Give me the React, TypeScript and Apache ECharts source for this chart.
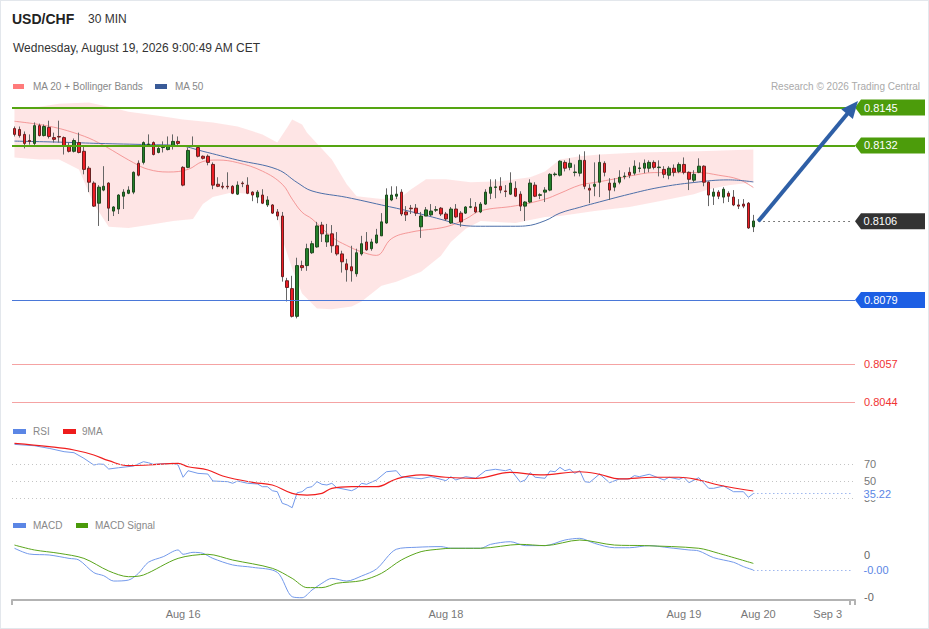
import React, { useEffect, useRef } from "react";
import * as echarts from "echarts";

const FONT = 'Arial, "Liberation Sans", Helvetica, sans-serif';

// category slots (30-min bars + empty future slots)
const SLOT_COUNT = 170;
const slots = Array.from({ length: SLOT_COUNT }, (_, i) => String(i));

// x-axis tick labels and the slot they sit on
const xTickLabels = ["Aug 16", "Aug 18", "Aug 19", "Aug 20", "Sep 3"];
const xTickSlots = [34, 87, 135, 150, 164];

// OHLC candles: [open, close, low, high]
const candles = [
  [0.81378, 0.81358, 0.81351, 0.81385],
  [0.81375, 0.81354, 0.81347, 0.81385],
  [0.81358, 0.81327, 0.8131, 0.81368],
  [0.81337, 0.81334, 0.81323, 0.81358],
  [0.81327, 0.81388, 0.8132, 0.81399],
  [0.81388, 0.81354, 0.81351, 0.81395],
  [0.81354, 0.81385, 0.81351, 0.81392],
  [0.81382, 0.81351, 0.81344, 0.81405],
  [0.81347, 0.81341, 0.8133, 0.81364],
  [0.81351, 0.81349, 0.8133, 0.81405],
  [0.81347, 0.81317, 0.81289, 0.81351],
  [0.81317, 0.813, 0.81296, 0.8133],
  [0.813, 0.81337, 0.81296, 0.81344],
  [0.8133, 0.81296, 0.81293, 0.81364],
  [0.813, 0.81238, 0.81221, 0.81317],
  [0.81242, 0.81194, 0.8116, 0.81249],
  [0.81191, 0.81112, 0.81109, 0.81197],
  [0.81122, 0.81177, 0.81044, 0.81184],
  [0.81167, 0.8118, 0.81163, 0.81249],
  [0.81191, 0.81105, 0.81061, 0.81194],
  [0.81095, 0.81109, 0.81078, 0.81112],
  [0.81102, 0.8115, 0.81085, 0.81153],
  [0.81146, 0.8116, 0.81102, 0.8117],
  [0.81156, 0.81167, 0.81153, 0.8118],
  [0.8116, 0.81228, 0.81153, 0.81231],
  [0.81259, 0.81218, 0.81214, 0.81269],
  [0.81262, 0.8133, 0.81255, 0.81334],
  [0.81323, 0.81325, 0.81317, 0.81358],
  [0.8133, 0.81289, 0.81286, 0.81334],
  [0.81296, 0.8131, 0.81293, 0.81317],
  [0.81313, 0.81315, 0.81296, 0.81334],
  [0.81306, 0.81317, 0.81303, 0.81351],
  [0.8132, 0.81334, 0.81306, 0.81358],
  [0.81334, 0.81327, 0.8132, 0.81351],
  [0.81245, 0.81184, 0.8118, 0.81249],
  [0.81245, 0.81303, 0.81242, 0.81313],
  [0.8132, 0.81318, 0.81317, 0.81351],
  [0.81313, 0.81283, 0.81279, 0.81317],
  [0.81283, 0.81276, 0.81272, 0.81286],
  [0.81283, 0.81262, 0.81252, 0.81289],
  [0.81255, 0.81184, 0.8117, 0.81262],
  [0.81187, 0.8118, 0.81177, 0.81211],
  [0.8118, 0.81177, 0.8117, 0.81194],
  [0.8118, 0.81178, 0.8117, 0.81228],
  [0.8118, 0.81156, 0.81153, 0.81184],
  [0.81153, 0.81184, 0.8115, 0.81197],
  [0.81191, 0.81189, 0.81177, 0.81197],
  [0.81184, 0.81156, 0.81153, 0.81211],
  [0.8116, 0.8115, 0.81129, 0.81163],
  [0.81143, 0.8116, 0.81122, 0.81167],
  [0.8115, 0.81122, 0.81119, 0.8117],
  [0.81116, 0.81133, 0.81109, 0.81146],
  [0.81116, 0.81088, 0.81085, 0.81119],
  [0.81092, 0.81078, 0.81064, 0.81102],
  [0.81078, 0.8087, 0.80853, 0.81092],
  [0.80856, 0.80833, 0.80785, 0.80866],
  [0.80829, 0.80734, 0.8073, 0.80873],
  [0.80734, 0.80908, 0.80727, 0.80935],
  [0.80908, 0.80901, 0.8089, 0.80925],
  [0.80908, 0.80966, 0.8089, 0.80983],
  [0.80952, 0.80983, 0.80948, 0.80993],
  [0.80972, 0.81044, 0.80969, 0.81058],
  [0.81047, 0.81017, 0.80989, 0.81058],
  [0.80989, 0.81013, 0.80972, 0.81051],
  [0.81017, 0.80976, 0.80952, 0.81047],
  [0.80976, 0.80948, 0.80942, 0.81023],
  [0.80948, 0.80921, 0.80884, 0.80959],
  [0.80914, 0.80894, 0.80853, 0.80931],
  [0.80904, 0.8089, 0.80853, 0.80976],
  [0.8088, 0.80952, 0.8087, 0.80966],
  [0.80948, 0.80983, 0.80942, 0.8101],
  [0.80989, 0.80962, 0.80959, 0.81023],
  [0.80966, 0.80989, 0.80959, 0.81],
  [0.80986, 0.81013, 0.80983, 0.81034],
  [0.8101, 0.81058, 0.8101, 0.81088],
  [0.81054, 0.8115, 0.81051, 0.81173],
  [0.81133, 0.8115, 0.81129, 0.8118],
  [0.81146, 0.81153, 0.81136, 0.8118],
  [0.8116, 0.81085, 0.81078, 0.8117],
  [0.81092, 0.81082, 0.81061, 0.81112],
  [0.81105, 0.81103, 0.81085, 0.81116],
  [0.81105, 0.81088, 0.81078, 0.81119],
  [0.81041, 0.81078, 0.81003, 0.81092],
  [0.81078, 0.81099, 0.81078, 0.81109],
  [0.81082, 0.81095, 0.81078, 0.81119],
  [0.81098, 0.811, 0.81092, 0.81112],
  [0.81105, 0.81085, 0.81078, 0.81109],
  [0.81085, 0.81068, 0.81061, 0.81092],
  [0.81054, 0.81102, 0.81051, 0.81109],
  [0.81102, 0.81075, 0.81071, 0.81119],
  [0.81088, 0.81058, 0.81041, 0.81095],
  [0.81088, 0.81109, 0.81085, 0.81112],
  [0.81108, 0.8111, 0.81105, 0.81139],
  [0.81109, 0.81092, 0.81088, 0.81126],
  [0.81092, 0.81119, 0.81088, 0.81126],
  [0.81119, 0.8116, 0.81116, 0.8117],
  [0.81156, 0.81177, 0.81136, 0.81204],
  [0.81176, 0.81178, 0.81139, 0.81204],
  [0.8118, 0.81167, 0.81156, 0.81211],
  [0.81164, 0.81162, 0.81143, 0.81184],
  [0.81153, 0.81191, 0.8115, 0.81228],
  [0.81173, 0.81146, 0.81143, 0.81197],
  [0.81153, 0.81112, 0.81095, 0.81163],
  [0.81112, 0.81126, 0.81061, 0.81129],
  [0.81126, 0.81191, 0.81122, 0.81204],
  [0.81184, 0.81146, 0.81143, 0.81194],
  [0.81149, 0.81151, 0.81136, 0.81156],
  [0.8116, 0.81167, 0.81126, 0.81177],
  [0.81167, 0.81221, 0.81163, 0.81225],
  [0.8122, 0.81222, 0.81214, 0.81228],
  [0.81218, 0.81266, 0.81214, 0.81269],
  [0.81262, 0.81242, 0.81231, 0.81269],
  [0.81245, 0.81259, 0.81235, 0.81276],
  [0.81227, 0.81229, 0.81214, 0.81255],
  [0.81225, 0.81269, 0.81214, 0.81289],
  [0.81269, 0.8118, 0.8117, 0.813],
  [0.81173, 0.81167, 0.81122, 0.81187],
  [0.8118, 0.81187, 0.81146, 0.81262],
  [0.81194, 0.81262, 0.81143, 0.81289],
  [0.81259, 0.81228, 0.81214, 0.81266],
  [0.81191, 0.81167, 0.81133, 0.81208],
  [0.81177, 0.81191, 0.81163, 0.81208],
  [0.81194, 0.81211, 0.81187, 0.81235],
  [0.81213, 0.81215, 0.81204, 0.81228],
  [0.81228, 0.81218, 0.81208, 0.81245],
  [0.81225, 0.81249, 0.81218, 0.81269],
  [0.81241, 0.81243, 0.81228, 0.81262],
  [0.81242, 0.81259, 0.81225, 0.81272],
  [0.81242, 0.81262, 0.81228, 0.81269],
  [0.81262, 0.81245, 0.81238, 0.81269],
  [0.81244, 0.81246, 0.81214, 0.81269],
  [0.81238, 0.81221, 0.81208, 0.81249],
  [0.81218, 0.81242, 0.81204, 0.81249],
  [0.81242, 0.81228, 0.81214, 0.81255],
  [0.81231, 0.81255, 0.81225, 0.81262],
  [0.81255, 0.81228, 0.81221, 0.81279],
  [0.81228, 0.81204, 0.81167, 0.81231],
  [0.81201, 0.81221, 0.81194, 0.81235],
  [0.81228, 0.81249, 0.81225, 0.81276],
  [0.81249, 0.81194, 0.8118, 0.81252],
  [0.81194, 0.8115, 0.81112, 0.81197],
  [0.81146, 0.8116, 0.81116, 0.81173],
  [0.8116, 0.81146, 0.81136, 0.81167],
  [0.81143, 0.8117, 0.81122, 0.81177],
  [0.81156, 0.81146, 0.81126, 0.81163],
  [0.81143, 0.81116, 0.81112, 0.81167],
  [0.81116, 0.81112, 0.81102, 0.81136],
  [0.81119, 0.81112, 0.81105, 0.81136],
  [0.81122, 0.81037, 0.81034, 0.81126],
  [0.81041, 0.81061, 0.81023, 0.81082],
];

// moving averages and Bollinger bands: [slot, price]
const ma20 = [
  [0, 0.81403], [7, 0.81386], [13, 0.81358], [17, 0.81329], [24, 0.81261], [27, 0.81238],
  [31, 0.81229], [35, 0.81238], [38, 0.81265], [41, 0.8127], [45, 0.81261], [50, 0.81232],
  [54, 0.81187], [56, 0.81136], [58, 0.81091], [60, 0.81068], [64, 0.81006], [67, 0.80977],
  [70, 0.80955], [73, 0.80943], [76, 0.81], [80, 0.81023], [87, 0.81041], [91, 0.81068],
  [94, 0.81096], [101, 0.81113], [107, 0.81136], [110, 0.81156], [114, 0.81184], [117, 0.81193],
  [120, 0.81202], [124, 0.81215], [129, 0.81227], [134, 0.81227], [138, 0.81227], [142, 0.81218],
  [146, 0.81204], [149, 0.81176],
];
const ma50 = [
  [0, 0.81335], [10, 0.81331], [17, 0.81327], [27, 0.81323], [33, 0.8132], [38, 0.813],
  [45, 0.8127], [53, 0.81238], [57, 0.81193], [60, 0.81164], [67, 0.81142], [74, 0.81116],
  [80, 0.81093], [87, 0.81062], [90, 0.81047], [94, 0.81043], [101, 0.81043], [103, 0.81044],
  [107, 0.81062], [110, 0.81088], [114, 0.81108], [117, 0.81122], [124, 0.81153], [130, 0.81176],
  [137, 0.81193], [144, 0.81202], [149, 0.81195],
];
const bandUpper = [
  [0, 0.8145], [5, 0.81453], [9, 0.81463], [15, 0.81467], [19, 0.81453], [23, 0.81436],
  [29, 0.81422], [34, 0.81409], [40, 0.81399], [45, 0.81385], [50, 0.81358], [53, 0.8133],
  [55, 0.81382], [56, 0.81409], [58, 0.81392], [59, 0.81364], [64, 0.81272], [67, 0.81187],
  [69, 0.81146], [74, 0.81136], [78, 0.81143], [80, 0.8117], [83, 0.81204], [87, 0.81204],
  [92, 0.81194], [98, 0.81197], [104, 0.81211], [107, 0.81231], [110, 0.81272], [114, 0.81283],
  [118, 0.81289], [126, 0.81296], [138, 0.813], [149, 0.81306],
];
const bandLower = [
  [0, 0.81279], [5, 0.81272], [9, 0.81272], [13, 0.81238], [16, 0.81119], [19, 0.81041],
  [23, 0.81037], [27, 0.81047], [32, 0.81061], [36, 0.81068], [38, 0.81119], [40, 0.81143],
  [44, 0.8116], [49, 0.8115], [51, 0.81119], [53, 0.81085], [54, 0.81], [56, 0.80897],
  [58, 0.80812], [61, 0.80761], [64, 0.80758], [68, 0.80768], [70, 0.80785], [74, 0.80839],
  [77, 0.80853], [82, 0.80887], [86, 0.80942], [88, 0.80989], [91, 0.81034], [94, 0.81061],
  [101, 0.81054], [107, 0.81075], [110, 0.81078], [117, 0.81095], [124, 0.81109], [130, 0.81129],
  [137, 0.81153], [140, 0.8117], [144, 0.81184], [149, 0.81194],
];

// RSI and its 9-period MA: [slot, value]
const rsi = [
  [0, 93.1], [4, 91.5], [7, 88.4], [10, 84.5], [12, 83.3], [14, 76.7], [16, 68.8], [17, 70.0],
  [18, 69.6], [19, 64.1], [21, 65.6], [24, 67.6], [26, 72.7], [27, 71.5], [28, 69.6], [32, 70.8],
  [33, 68.8], [34, 54.4], [35, 62.1], [37, 59.0], [39, 58.2], [40, 50.0], [43, 49.2], [44, 47.3],
  [45, 50.0], [47, 47.3], [49, 46.5], [50, 43.3], [51, 43.3], [52, 38.6], [53, 37.4], [54, 23.8],
  [55, 21.8], [56, 18.6], [57, 36.2], [58, 37.4], [59, 42.1], [60, 43.3], [61, 49.2], [62, 46.1],
  [63, 45.3], [64, 47.3], [65, 42.1], [68, 38.6], [69, 41.4], [70, 47.3], [71, 46.1], [73, 51.2],
  [75, 60.9], [77, 62.1], [78, 55.1], [80, 53.9], [82, 52.7], [84, 55.1], [87, 50.4], [88, 55.1],
  [89, 51.2], [91, 55.1], [93, 53.2], [95, 62.1], [97, 63.8], [99, 62.1], [100, 63.8], [102, 48.8],
  [103, 51.2], [104, 59.8], [105, 54.4], [107, 53.2], [108, 61.8], [109, 60.9], [110, 66.1],
  [111, 62.1], [112, 63.8], [113, 59.0], [114, 62.1], [115, 49.2], [116, 48.4], [118, 58.2],
  [120, 48.0], [122, 52.4], [124, 52.4], [125, 56.3], [126, 55.1], [128, 57.9], [131, 51.2],
  [132, 54.4], [134, 52.0], [135, 54.4], [136, 48.0], [138, 53.9], [140, 41.4], [141, 41.4],
  [143, 44.1], [145, 37.4], [147, 37.4], [148, 30.8], [149, 35.22],
];
const rsiMa = [
  [0, 94.3], [7, 90.4], [12, 86.5], [16, 80.6], [19, 73.9], [23, 68.0], [27, 68.8], [33, 70.8],
  [35, 66.8], [39, 62.9], [42, 55.9], [48, 48.4], [52, 45.3], [56, 35.5], [59, 33.5], [62, 35.5],
  [64, 41.4], [68, 43.3], [73, 43.3], [77, 52.4], [82, 57.1], [87, 54.4], [93, 53.2], [100, 60.2],
  [106, 57.1], [114, 60.9], [118, 57.9], [122, 52.4], [129, 54.4], [134, 54.4], [138, 51.2],
  [142, 45.3], [149, 38.2],
];

// MACD and signal: [slot, value]
const macd = [
  [0, 0.000048], [3, 0.000007], [7, 0], [11, -0.000024], [13, -0.000036], [16, -0.000126],
  [18, -0.000148], [20, -0.000186], [23, -0.000179], [25, -0.000131], [27, -0.000052],
  [30, -0.000012], [33, 0.000036], [34, 0.000005], [36, 0.000019], [38, 0.000012],
  [40, -0.000024], [44, -0.000071], [48, -0.000088], [53, -0.000124], [56, -0.000298],
  [58, -0.000305], [60, -0.00025], [62, -0.000202], [64, -0.000167], [67, -0.000186],
  [70, -0.00015], [73, -0.0001], [77, 0.000041], [81, 0.000055], [86, 0.00006], [88, 0.000048],
  [94, 0.000048], [96, 0.000076], [100, 0.000095], [103, 0.000067], [107, 0.000067],
  [111, 0.000107], [114, 0.000119], [117, 0.000083], [121, 0.000052], [124, 0.000052],
  [128, 0.000067], [132, 0.000052], [136, 0.000036], [138, 0.000029], [141, -0.000019],
  [145, -0.000052], [147, -0.000083], [149, -0.000107],
];
const macdSignal = [
  [0, 0.000071], [4, 0.000036], [9, 0.000012], [14, -0.000024], [19, -0.000114], [23, -0.000155],
  [26, -0.000143], [33, -0.000024], [39, 0.000005], [44, -0.000036], [52, -0.000095],
  [56, -0.000167], [59, -0.000233], [62, -0.000233], [65, -0.000202], [70, -0.000183],
  [74, -0.000131], [78, -0.000036], [82, 0.000024], [86, 0.000043], [88, 0.000048],
  [94, 0.000048], [102, 0.000076], [107, 0.000067], [114, 0.000107], [121, 0.000071],
  [127, 0.000067], [138, 0.000048], [142, 0.000012], [149, -0.00006],
];

// key levels
const resistanceLevels = [0.8145, 0.8132];
const pivotLevel = 0.8106;
const blueSupport = 0.8079;
const redSupports = [0.8057, 0.8044];
const rsiGuides = [70, 50, 30];
const macdTicks = [0, -0.0003];
const arrowFromSlot = 150;
const arrowToSlot = 169;

const GREEN = "#4c9c0b";
const BLUE_TAG = "#1d5fe4";
const DARK_TAG = "#333333";
const PLOT_RIGHT = 855;

export default function App() {
  const ref = useRef<HTMLDivElement>(null);

  useEffect(() => {
    const chart = echarts.init(ref.current!, null, { renderer: "svg" });
    const lastIdx = candles.length - 1;
    const lastClose = candles[lastIdx][1];
    const rsiLast = rsi[rsi.length - 1][1];
    const macdLast = macd[macd.length - 1][1];
    const bodies = candles.map(([o, c]) => [o, c, Math.min(o, c), Math.max(o, c)]);

    const valueLabel = (text: string, dist: number, color: string, extra: any = {}) => ({
      show: true,
      position: "end",
      distance: dist,
      color,
      fontSize: 11,
      fontFamily: FONT,
      formatter: () => text,
      ...extra,
    });

    const xAxisBase = (g: number) => ({
      type: "category",
      gridIndex: g,
      data: slots,
      boundaryGap: true,
      show: g === 2,
      axisLine: { show: true, onZero: false, lineStyle: { color: "#b3b3b3", width: 2 } },
      axisTick: {
        show: true,
        length: 5,
        interval: (i: number) => i === 0 || i === SLOT_COUNT - 1,
        lineStyle: { color: "#b3b3b3", width: 2 },
      },
      axisLabel: {
        interval: (i: number) => xTickSlots.indexOf(i) >= 0,
        formatter: (_v: string, i: number) => {
          const k = xTickSlots.indexOf(i);
          return k >= 0 ? xTickLabels[k] : "";
        },
        color: "#777",
        fontSize: 11,
        fontFamily: FONT,
        margin: 8,
      },
      splitLine: { show: false },
    });

    const option: any = {
      animation: false,
      backgroundColor: "transparent",
      textStyle: { fontFamily: FONT },
      grid: [
        { left: 12, right: 74, top: 93, height: 320.7 },
        { left: 12, right: 74, top: 438.5, height: 72.25 },
        { left: 12, right: 74, top: 536, height: 64 },
      ],
      xAxis: [xAxisBase(0), xAxisBase(1), xAxisBase(2)],
      yAxis: [
        { type: "value", gridIndex: 0, min: 0.804, max: 0.815, show: false, splitLine: { show: false } },
        {
          type: "value",
          gridIndex: 1,
          min: 15,
          max: 100,
          position: "right",
          axisLine: { show: false },
          axisTick: { show: false },
          splitLine: { show: false },
          axisLabel: { customValues: rsiGuides, color: "#777", fontSize: 11, margin: 9, fontFamily: FONT },
        },
        {
          type: "value",
          gridIndex: 2,
          min: -0.000321429,
          max: 0.000135714,
          position: "right",
          axisLine: { show: false },
          axisTick: { show: false },
          splitLine: { show: false },
          axisLabel: {
            customValues: macdTicks,
            formatter: (v: number) => v.toFixed(0),
            color: "#666",
            fontSize: 11,
            margin: 9,
            fontFamily: FONT,
          },
        },
      ],
      series: [
        {
          type: "custom",
          name: "band",
          xAxisIndex: 0,
          yAxisIndex: 0,
          silent: true,
          z: 1,
          data: [[0, bandUpper[0][1]]],
          renderItem: (_params: any, api: any) => {
            const pts: number[][] = [];
            bandUpper.forEach((p) => pts.push(api.coord(p)));
            for (let k = bandLower.length - 1; k >= 0; k--) pts.push(api.coord(bandLower[k]));
            return {
              type: "polygon",
              shape: { points: pts },
              style: { fill: "rgba(250,160,160,0.28)" },
            };
          },
        },
        {
          type: "line",
          name: "MA 20 + Bollinger Bands",
          xAxisIndex: 0,
          yAxisIndex: 0,
          data: ma20,
          smooth: 0.4,
          showSymbol: false,
          silent: true,
          z: 2,
          lineStyle: { color: "#f28b8b", width: 1, opacity: 0.85 },
        },
        {
          type: "line",
          name: "MA 50",
          xAxisIndex: 0,
          yAxisIndex: 0,
          data: ma50,
          smooth: 0.4,
          showSymbol: false,
          silent: true,
          z: 2,
          lineStyle: { color: "#4d6fa8", width: 1 },
        },
        {
          type: "candlestick",
          name: "wicks",
          xAxisIndex: 0,
          yAxisIndex: 0,
          data: candles,
          barWidth: 1,
          silent: true,
          z: 3,
          itemStyle: { color: "#666", color0: "#666", borderColor: "#666", borderColor0: "#666", borderWidth: 1 },
        },
        {
          type: "candlestick",
          name: "USD/CHF",
          xAxisIndex: 0,
          yAxisIndex: 0,
          data: bodies,
          barWidth: 3,
          silent: true,
          z: 4,
          itemStyle: {
            color: "#23802a",
            color0: "#ee1c24",
            borderColor: "#1f4a1f",
            borderColor0: "#6a2222",
            borderWidth: 1,
          },
        },
        {
          // carrier of the price-level lines, the last price and the target arrow
          type: "line",
          name: "levels",
          xAxisIndex: 0,
          yAxisIndex: 0,
          data: [[lastIdx, lastClose]],
          showSymbol: false,
          silent: true,
          z: 5,
          lineStyle: { opacity: 0 },
          markLine: {
            silent: true,
            precision: 6,
            symbol: ["none", "none"],
            animation: false,
            data: [
              ...resistanceLevels.map((v) => ({
                yAxis: v,
                lineStyle: { color: "#55a512", width: 2, type: "solid" },
                label: valueLabel(v.toFixed(4), 9, "#fff"),
              })),
              {
                yAxis: blueSupport,
                lineStyle: { color: "#4a78d8", width: 1, type: "solid" },
                label: valueLabel(blueSupport.toFixed(4), 9, "#fff"),
              },
              ...redSupports.map((v) => ({
                yAxis: v,
                lineStyle: { color: "#f5a3a3", width: 1, type: "solid" },
                label: valueLabel(v.toFixed(4), 9, "#f03434"),
              })),
              [
                {
                  coord: [arrowFromSlot, pivotLevel],
                  lineStyle: { color: "#555", width: 1, type: [1.5, 3.5] },
                  label: valueLabel(pivotLevel.toFixed(4), 11, "#fff"),
                },
                { coord: [arrowToSlot, pivotLevel] },
              ],
              [
                {
                  coord: [arrowFromSlot, pivotLevel],
                  symbol: "none",
                  lineStyle: { color: "#2e5fa6", width: 4, type: "solid" },
                  label: { show: false },
                },
                { coord: [arrowToSlot, resistanceLevels[0]], symbol: "triangle", symbolSize: [15, 17] },
              ],
            ],
          },
        },
        {
          type: "line",
          name: "RSI",
          xAxisIndex: 1,
          yAxisIndex: 1,
          data: rsi,
          showSymbol: false,
          silent: true,
          lineStyle: { color: "#7399ea", width: 1 },
          markLine: {
            silent: true,
            precision: 4,
            symbol: ["none", "none"],
            animation: false,
            data: [
              ...rsiGuides.map((v) => ({
                yAxis: v,
                lineStyle: { color: "#c4c4c4", width: 1, type: [1, 3] },
                label: { show: false },
              })),
              [
                {
                  coord: [lastIdx, rsiLast],
                  lineStyle: { color: "#6f94e6", width: 1, type: [1, 3] },
                  label: valueLabel(rsiLast.toFixed(2), 11, "#5b86e5", {
                    backgroundColor: "#fff",
                    padding: [1, 2, 1, 0],
                  }),
                },
                { coord: [arrowToSlot, rsiLast] },
              ],
            ],
          },
        },
        {
          type: "line",
          name: "9MA",
          xAxisIndex: 1,
          yAxisIndex: 1,
          data: rsiMa,
          smooth: 0.4,
          showSymbol: false,
          silent: true,
          lineStyle: { color: "#f01e1e", width: 1.2 },
        },
        {
          type: "line",
          name: "MACD",
          xAxisIndex: 2,
          yAxisIndex: 2,
          data: macd,
          smooth: 0.3,
          showSymbol: false,
          silent: true,
          lineStyle: { color: "#7399ea", width: 1 },
          markLine: {
            silent: true,
            precision: 8,
            symbol: ["none", "none"],
            animation: false,
            data: [
              [
                {
                  coord: [lastIdx, macdLast],
                  lineStyle: { color: "#6f94e6", width: 1, type: [1, 3] },
                  label: valueLabel(macdLast.toFixed(2), 11, "#5b86e5"),
                },
                { coord: [arrowToSlot, macdLast] },
              ],
            ],
          },
        },
        {
          type: "line",
          name: "MACD Signal",
          xAxisIndex: 2,
          yAxisIndex: 2,
          data: macdSignal,
          smooth: 0.3,
          showSymbol: false,
          silent: true,
          lineStyle: { color: "#5aa51c", width: 1 },
        },
      ],
    };

    chart.setOption(option);

    const tagDefs = [
      { value: resistanceLevels[0], color: GREEN },
      { value: resistanceLevels[1], color: GREEN },
      { value: pivotLevel, color: DARK_TAG },
      { value: blueSupport, color: BLUE_TAG },
    ];
    const tagEls = tagDefs.map((t) => {
      const y = chart.convertToPixel({ yAxisIndex: 0 } as any, t.value) as number;
      const h = 8;
      return {
        type: "polygon",
        silent: true,
        z: 0,
        shape: {
          points: [
            [PLOT_RIGHT, y],
            [PLOT_RIGHT + 6, y - h],
            [925, y - h],
            [925, y + h],
            [PLOT_RIGHT + 6, y + h],
          ],
        },
        style: { fill: t.color },
      };
    });

    const txt = (text: string, x: number, y: number, size: number, fill: string, extra: any = {}) => ({
      type: "text",
      x,
      y,
      silent: true,
      style: { text, fontSize: size, fontFamily: FONT, fill, verticalAlign: "middle", align: "left", ...extra },
    });
    const box = (x: number, y: number, w: number, h: number, fill: string) => ({
      type: "rect",
      silent: true,
      shape: { x, y, width: w, height: h },
      style: { fill },
    });

    const headerEls = [
      txt("USD/CHF", 12, 19, 14, "#222", { fontWeight: "bold" }),
      txt("30 MIN", 88, 19, 12, "#333"),
      txt("Wednesday, August 19, 2026 9:00:49 AM CET", 13, 48, 12, "#333"),
      box(13, 84, 11, 5, "#ff7b7b"),
      txt("MA 20 + Bollinger Bands", 33, 86.5, 10, "#888"),
      box(155, 84, 12, 5, "#3a5b98"),
      txt("MA 50", 175, 86.5, 10, "#888"),
      txt("Research © 2026 Trading Central", 920, 86.5, 10, "#aaa", { align: "right" }),
      box(13, 429, 13, 5, "#5b86e5"),
      txt("RSI", 33, 431, 10, "#888"),
      box(63, 429, 13, 5, "#ee1c1c"),
      txt("9MA", 82, 431, 10, "#888"),
      box(13, 523, 13, 5, "#5b86e5"),
      txt("MACD", 33, 525.5, 10, "#888"),
      box(76, 523, 12, 5, "#4a9a0a"),
      txt("MACD Signal", 95, 525.5, 10, "#888"),
    ];

    chart.setOption({ graphic: { elements: [...tagEls, ...headerEls] } });

    return () => chart.dispose();
  }, []);

  return (
    <div
      ref={ref}
      style={{
        position: "fixed",
        left: 0,
        top: 0,
        width: 929,
        height: 629,
        background: "#fff",
        boxShadow: "inset 0 0 0 1px #e3e7ec",
      }}
    />
  );
}
